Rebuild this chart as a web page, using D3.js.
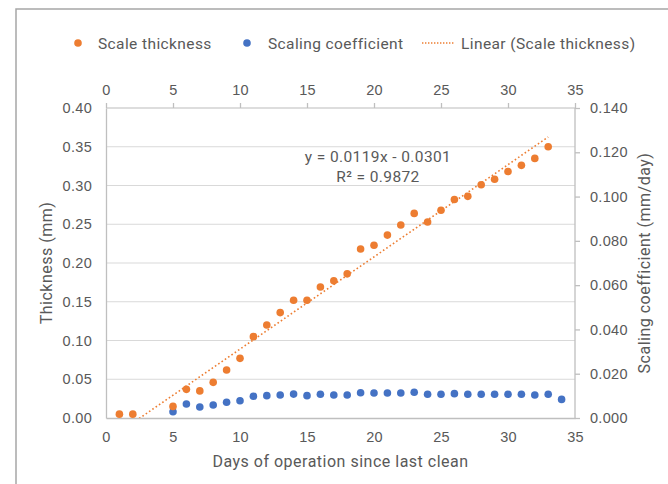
<!DOCTYPE html>
<html>
<head>
<meta charset="utf-8">
<script src="https://cdn.jsdelivr.net/npm/d3@7"></script>
<style>
  body { margin: 0; background: #fff; }
  svg { display: block; font-family: Roboto, "Liberation Sans", sans-serif; }
  .tick text { fill: #595959; font-size: 14.5px; letter-spacing: 0.3px; }
</style>
</head>
<body>
<svg id="chart" width="668" height="484"></svg>
<script>
// Scale thickness (mm), left axis
var thicknessDays = [1, 2, 5, 6, 7, 8, 9, 10, 11, 12, 13, 14, 15, 16, 17, 18, 19, 20,
	21, 22, 23, 24, 25, 26, 27, 28, 29, 30, 31, 32, 33];
var thicknessValues = [0.005, 0.005, 0.015, 0.037, 0.035, 0.046, 0.062, 0.077, 0.105, 0.120,
	0.136, 0.152, 0.152, 0.169, 0.177, 0.186, 0.218, 0.223, 0.236, 0.249, 0.264, 0.253,
	0.268, 0.282, 0.286, 0.301, 0.308, 0.318, 0.326, 0.335, 0.350];

// Scaling coefficient (mm/day), right axis
var coefDays = [5, 6, 7, 8, 9, 10, 11, 12, 13, 14, 15, 16, 17, 18, 19, 20, 21, 22, 23, 24,
	25, 26, 27, 28, 29, 30, 31, 32, 33, 34];
var coefValues = [0.0028, 0.0063, 0.0050, 0.0059, 0.0071, 0.0078, 0.0098, 0.0101, 0.0104, 0.0108,
	0.0101, 0.0107, 0.0104, 0.0104, 0.0114, 0.0113, 0.0113, 0.0113, 0.0116, 0.0107,
	0.0107, 0.0110, 0.0107, 0.0107, 0.0107, 0.0107, 0.0107, 0.0104, 0.0107, 0.0084];

// trendline as given in the chart label
var trendSlope = 0.0119, trendIntercept = -0.0301;
var trendLabel = ["y = 0.0119x - 0.0301", "R\u00b2 = 0.9872"];

var xTicks = [0, 5, 10, 15, 20, 25, 30, 35];
var leftTicks = [0, 0.05, 0.10, 0.15, 0.20, 0.25, 0.30, 0.35, 0.40];
var rightTicks = [0, 0.02, 0.04, 0.06, 0.08, 0.10, 0.12, 0.14];

var seriesNames = ["Scale thickness", "Scaling coefficient", "Linear (Scale thickness)"];
var orange = "#ED7D31", blue = "#4472C4", textCol = "#595959";

var margin = {top: 108, right: 93, bottom: 66, left: 106},
	width = 668 - margin.left - margin.right,
	height = 484 - margin.top - margin.bottom;

var svg = d3.select("#chart");

// outer frame
svg.append("rect")
	.attr("x", 16).attr("y", 9)
	.attr("width", 700).attr("height", 500)
	.attr("fill", "none")
	.attr("stroke", "#a6a6a6")
	.attr("stroke-width", 1.5);

var chart = svg.append("g")
	.attr("transform", "translate(" + margin.left + "," + margin.top + ")");

var x = d3.scaleLinear().domain([0, 35]).range([0, width]);
var yL = d3.scaleLinear().domain([0, 0.40]).range([height, 0]);
var yR = d3.scaleLinear().domain([0, 0.14]).range([height, 0]);

// gridlines
chart.append("g")
	.selectAll("line")
	.data(leftTicks.slice(1))
  .enter().append("line")
	.attr("x1", 0).attr("x2", width)
	.attr("y1", function(d) { return yL(d); })
	.attr("y2", function(d) { return yL(d); })
	.attr("stroke", "#d9d9d9")
	.attr("stroke-width", 1);

// axes
var bottomAxis = chart.append("g")
	.attr("transform", "translate(0," + height + ")")
	.call(d3.axisBottom(x).tickValues(xTicks).tickSize(0).tickPadding(14).tickFormat(d3.format("d")));
var topAxis = chart.append("g")
	.call(d3.axisTop(x).tickValues(xTicks).tickSize(5).tickPadding(8).tickFormat(d3.format("d")));
var leftAxis = chart.append("g")
	.call(d3.axisLeft(yL).tickValues(leftTicks).tickSize(0).tickPadding(14).tickFormat(d3.format(".2f")));
var rightAxis = chart.append("g")
	.attr("transform", "translate(" + width + ",0)")
	.call(d3.axisRight(yR).tickValues(rightTicks).tickSize(5).tickPadding(10).tickFormat(d3.format(".3f")));

[bottomAxis, topAxis, leftAxis, rightAxis].forEach(function(a) {
	a.select(".domain").attr("stroke", "#bfbfbf").attr("stroke-width", 1.3);
	a.selectAll(".tick line").attr("stroke", "#bfbfbf").attr("stroke-width", 1.3);
	a.selectAll(".tick text").attr("fill", textCol);
});
topAxis.select(".domain").attr("stroke", "#d9d9d9").attr("d", "M0,0H" + width);
rightAxis.select(".domain").attr("d", "M0,0V" + height);

// trendline
chart.append("clipPath").attr("id", "clip")
  .append("rect").attr("width", width).attr("height", height);

var trendData = [1, 33].map(function(d) { return {x: d, y: trendSlope * d + trendIntercept}; });
chart.append("path")
	.datum(trendData)
	.attr("clip-path", "url(#clip)")
	.attr("fill", "none")
	.attr("stroke", orange)
	.attr("stroke-width", 1.6)
	.attr("stroke-dasharray", "1.6,2.4")
	.attr("d", d3.line()
		.x(function(d) { return x(d.x); })
		.y(function(d) { return yL(d.y); }));

// points
chart.append("g").selectAll("circle")
	.data(coefDays)
  .enter().append("circle")
	.attr("cx", function(d) { return x(d); })
	.attr("cy", function(d, i) { return yR(coefValues[i]); })
	.attr("r", 3.8)
	.attr("fill", blue);

chart.append("g").selectAll("circle")
	.data(thicknessDays)
  .enter().append("circle")
	.attr("cx", function(d) { return x(d); })
	.attr("cy", function(d, i) { return yL(thicknessValues[i]); })
	.attr("r", 3.8)
	.attr("fill", orange);

// trend label
chart.append("text")
	.attr("x", 272).attr("y", 54)
	.attr("text-anchor", "middle")
	.attr("fill", textCol)
	.style("font-size", "15.5px")
	.style("letter-spacing", "0.4px")
	.selectAll("tspan")
	.data(trendLabel)
  .enter().append("tspan")
	.attr("x", 272)
	.attr("dy", function(d, i) { return i ? 20 : 0; })
	.text(function(d) { return d; });

// axis titles
chart.append("text")
	.attr("x", width / 2).attr("y", height + 49)
	.attr("text-anchor", "middle")
	.attr("fill", textCol)
	.style("font-size", "16px")
	.style("letter-spacing", "0.5px")
	.text("Days of operation since last clean");

chart.append("text")
	.attr("transform", "translate(-54," + (height / 2) + ") rotate(-90)")
	.attr("text-anchor", "middle")
	.attr("fill", textCol)
	.style("font-size", "16px")
	.style("letter-spacing", "0.5px")
	.text("Thickness (mm)");

chart.append("text")
	.attr("transform", "translate(" + (width + 75) + "," + (height / 2) + ") rotate(-90)")
	.attr("text-anchor", "middle")
	.attr("fill", textCol)
	.style("font-size", "16px")
	.style("letter-spacing", "0.5px")
	.text("Scaling coefficient (mm/day)");

// legend
var legend = svg.append("g").attr("transform", "translate(0,43)")
	.style("font-size", "15.5px").style("letter-spacing", "0.4px");
legend.append("circle").attr("cx", 78).attr("cy", 0).attr("r", 3.8).attr("fill", orange);
legend.append("text").attr("x", 98).attr("y", 5.5).attr("fill", textCol).text(seriesNames[0]);
legend.append("circle").attr("cx", 247).attr("cy", 0).attr("r", 3.8).attr("fill", blue);
legend.append("text").attr("x", 268).attr("y", 5.5).attr("fill", textCol).text(seriesNames[1]);
legend.append("line").attr("x1", 422).attr("x2", 455).attr("y1", 0).attr("y2", 0)
	.attr("stroke", orange).attr("stroke-width", 1.4).attr("stroke-dasharray", "1.4,1.6");
legend.append("text").attr("x", 461).attr("y", 5.5).attr("fill", textCol).text(seriesNames[2]);
</script>
</body>
</html>
